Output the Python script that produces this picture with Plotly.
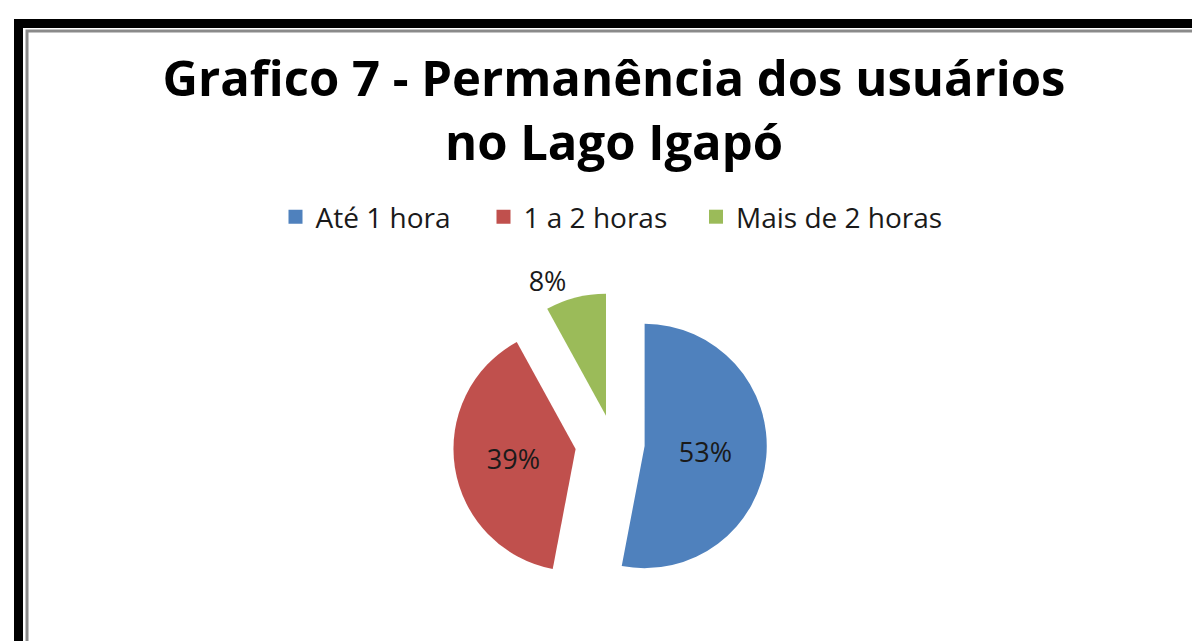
import plotly.graph_objects as go

# Data
labels = ["Até 1 hora", "1 a 2 horas", "Mais de 2 horas"]
values = [53, 39, 8]
colors = ["#4F81BD", "#C0504D", "#9BBB59"]
pulls = [0.26, 0.31, 0.23]
title_text = "Grafico 7 - Permanência dos usuários<br>no Lago Igapó"

W, H = 1200, 641


def px_x(x):
    return x / W


def px_y(y):
    return 1 - y / H


cx, cy, half = 605, 435, 160

fig = go.Figure()
fig.add_trace(go.Pie(
    labels=labels,
    values=values,
    marker=dict(colors=colors, line=dict(width=0)),
    pull=pulls,
    sort=False,
    direction="clockwise",
    rotation=0,
    texttemplate="%{percent:.0%}",
    textposition=["inside", "inside", "outside"],
    insidetextorientation="horizontal",
    textfont=dict(family="Open Sans", size=27, color="#1a1a1a"),
    domain=dict(x=[px_x(cx - half), px_x(cx + half)],
                y=[px_y(cy + half), px_y(cy - half)]),
    hoverinfo="label+percent",
    showlegend=False,
))

# Legend entries (one legend per category so each can be placed like the original)
legend_names = ["legend", "legend2", "legend3"]
legend_sq_x = [295.5, 503.5, 716]
for lab, col, lg in zip(labels, colors, legend_names):
    fig.add_trace(go.Scatter(
        x=[None], y=[None], mode="markers", name=lab,
        marker=dict(symbol="square", size=14, color=col),
        legend=lg, showlegend=True, hoverinfo="skip",
    ))

legend_font = dict(family="Open Sans", size=28, color="#1a1a1a")
legend_layout = {}
for lg, sx in zip(legend_names, legend_sq_x):
    legend_layout[lg] = dict(
        orientation="h",
        x=px_x(sx - 28), xanchor="left",
        y=px_y(184), yanchor="top",
        font=legend_font,
        bgcolor="rgba(0,0,0,0)",
    )

shapes = [
    # outer black frame
    dict(type="rect", xref="paper", yref="paper",
         x0=px_x(6), x1=px_x(1200), y0=px_y(641), y1=px_y(11),
         fillcolor="black", line=dict(width=0), layer="below"),
    dict(type="rect", xref="paper", yref="paper",
         x0=px_x(15), x1=px_x(1200), y0=px_y(638), y1=px_y(20),
         fillcolor="white", line=dict(width=0), layer="below"),
    # inner gray border
    dict(type="rect", xref="paper", yref="paper",
         x0=px_x(19), x1=px_x(1196.5), y0=px_y(640), y1=px_y(23),
         fillcolor="rgba(0,0,0,0)", line=dict(width=3, color="#8a8a8a"), layer="below"),
]

fig.update_layout(
    width=W, height=H,
    margin=dict(l=0, r=0, t=0, b=0),
    paper_bgcolor="white",
    plot_bgcolor="rgba(0,0,0,0)",
    shapes=shapes,
    xaxis=dict(visible=False, range=[0, 1]),
    yaxis=dict(visible=False, range=[0, 1]),
    title=dict(
        text=title_text,
        x=px_x(606), xanchor="center", xref="paper",
        y=px_y(88), yanchor="top", yref="container",
        font=dict(family="Open Sans", size=49, color="black", weight="bold"),
    ),
    **legend_layout,
)

fig.write_html("out.html")
